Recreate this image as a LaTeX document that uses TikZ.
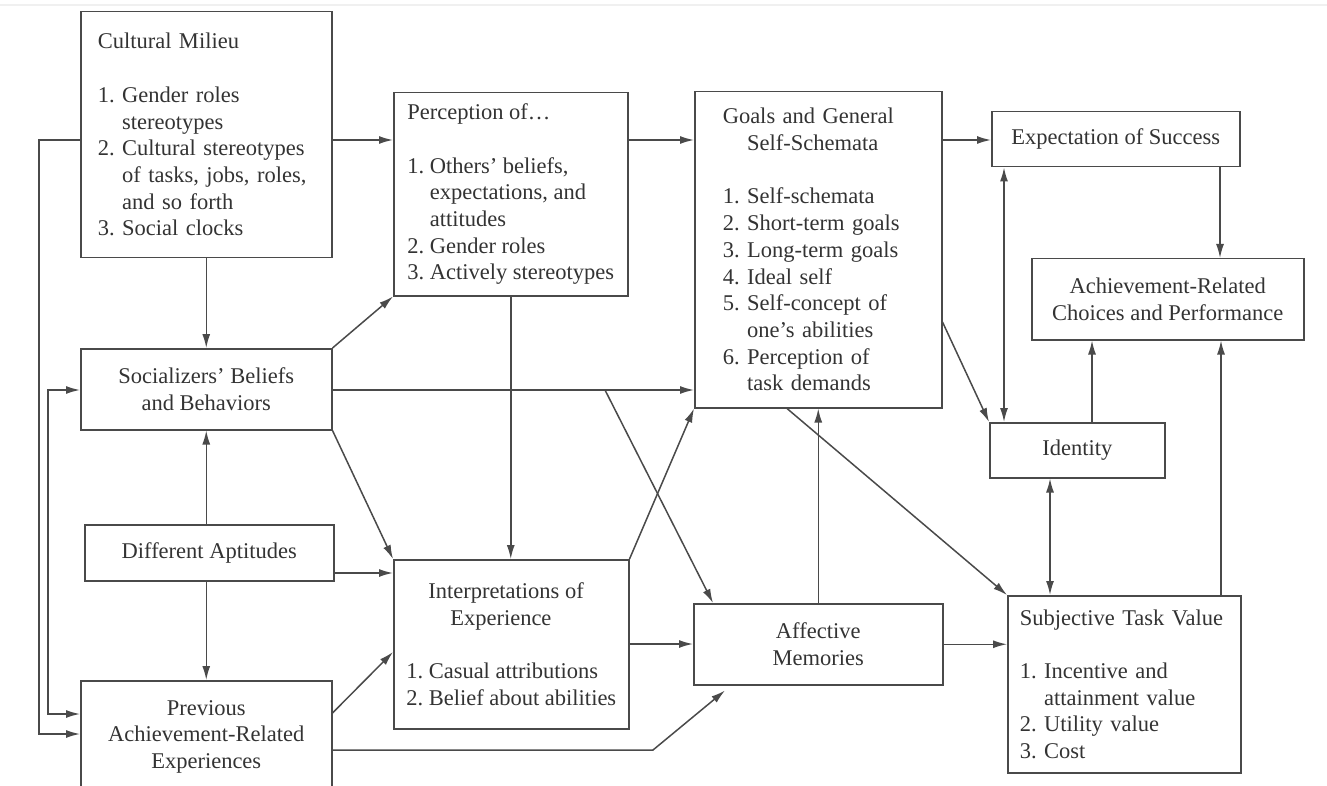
\documentclass[tikz,border=0pt]{standalone}
\usepackage{fontspec}
\setmainfont{Liberation Serif}
\usepackage[HTML]{xcolor}
\usepackage{tikz}
\usetikzlibrary{arrows.meta}

\definecolor{linegray}{HTML}{4A4A4A}
\definecolor{textgray}{HTML}{333333}
\newcommand{\boxfont}{\fontsize{22.5}{26.7}\selectfont\frenchspacing\hyphenpenalty=10000 }
\newcommand{\hangone}{\phantom{1. }}

\tikzset{
  box/.style={draw=linegray, line width=1.5pt, text=textgray, font=\boxfont,
    inner sep=0pt, anchor=north west},
  listbox/.style={box, align=left},
  plainbox/.style={box, align=center},
  link/.style={draw=linegray, line width=1.5pt, -{Latex[length=14pt,width=8pt]}},
  twoway/.style={link, {Latex[length=14pt,width=8pt]}-{Latex[length=14pt,width=8pt]}},
}

\begin{document}
\begin{tikzpicture}[x=1pt,y=-1pt]
\path[use as bounding box, clip] (0,0) rectangle (1327,786);
\draw[gray!12, line width=1.5pt] (0,5) -- (1327,5);
% boxes
\node[listbox, text width=217pt, inner xsep=17pt, minimum height=246pt] (cult) at (80,11)
  {Cultural Milieu\\[26.7pt]
   1. Gender roles\\\hangone stereotypes\\
   2. Cultural stereotypes\\\hangone of tasks, jobs, roles,\\\hangone and so forth\\
   3. Social clocks};
\node[listbox, minimum width=234pt, minimum height=203pt] (percep) at (393,92)
  {Perception of\ldots\\[26.7pt]
   1. Others' beliefs,\\\hangone expectations, and\\\hangone attitudes\\
   2. Gender roles\\
   3. Actively stereotypes};
\node[listbox, text width=191pt, inner xsep=28pt, minimum height=316pt] (goals) at (694,91)
  {Goals and General\\\hangone Self-Schemata\\[26.7pt]
   1. Self-schemata\\
   2. Short-term goals\\
   3. Long-term goals\\
   4. Ideal self\\
   5. Self-concept of\\\hangone one's abilities\\
   6. Perception of\\\hangone task demands};
\node[plainbox, minimum width=248pt, minimum height=55pt] (expect) at (991,111) {Expectation of Success};
\node[plainbox, minimum width=272pt, minimum height=81pt] (achieve) at (1031,258)
  {Achievement-Related\\Choices and Performance};
\node[plainbox, minimum width=175pt, minimum height=55pt] (identity) at (989,422) {Identity};
\node[listbox, text width=209pt, inner xsep=12pt, minimum height=177pt] (subj) at (1007,595)
  {Subjective Task Value\\[26.7pt]
   1. Incentive and\\\hangone attainment value\\
   2. Utility value\\
   3. Cost};
\node[plainbox, minimum width=251pt, minimum height=81pt] (soc) at (80,348)
  {Socializers' Beliefs\\and Behaviors};
\node[plainbox, minimum width=249pt, minimum height=56pt] (apt) at (84,524) {Different Aptitudes};
\node[plainbox, minimum width=251pt, minimum height=112pt] (prev) at (80,680)
  {Previous\\Achievement-Related\\Experiences};
\node[listbox, minimum width=235pt, minimum height=169pt] (interp) at (393,559)
  {\hspace*{22pt}Interpretations of\\\hspace*{44pt}Experience\\[26.7pt]
   1. Casual attributions\\
   2. Belief about abilities};
\node[plainbox, minimum width=249pt, minimum height=81pt] (affect) at (693,603)
  {Affective\\Memories};
% cultural milieu
\draw[link] (cult.east |- 0,140) -- (percep.west |- 0,140);
\draw[link] (cult.south) -- (soc.north);
\draw[link] (cult.west |- 0,140) -| (39,734) -- (prev.west |- 0,734);
\draw[twoway] (soc.west |- 0,390) -| (48,714) -- (prev.west |- 0,714);
% socializers
\coordinate (br) at (605,390);
\draw[link] (soc.north east) -- (percep.south west);
\draw[link] (soc.south east) -- (interp.north west);
\draw[link] (soc.east |- 0,390) -- (goals.west |- 0,390);
\draw[link] (br) -- ([xshift=20pt]affect.north west);
% aptitudes
\draw[link] (apt.north -| soc.south) -- (soc.south);
\draw[link] (apt.south -| prev.north) -- (prev.north);
\draw[link] (apt.east |- 0,573) -- (interp.west |- 0,573);
% previous experiences
\draw[link] (prev.east |- 0,713) -- (interp.west |- 0,652);
\draw[link] (prev.east |- 0,750) -- (653,750) -- ([xshift=32pt,yshift=-5pt]affect.south west);
% perception
\draw[link] (percep.south) -- (percep.south |- interp.north);
\draw[link] (percep.east |- 0,140) -- (goals.west |- 0,140);
% interpretations and memories
\draw[link] (interp.north east) -- (goals.south west);
\draw[link] (interp.east |- 0,644) -- (affect.west |- 0,644);
\draw[link] (affect.north) -- (goals.south);
\draw[link] (affect.east) -- (affect.east -| subj.west);
% goals
\draw[link] (goals.south -| 787,0) -- (subj.north west);
\draw[link] (goals.east |- 0,322) -- (identity.north west);
\draw[link] (goals.east |- 0,140) -- (expect.west |- 0,140);
% right column
\draw[twoway] (expect.south -| 1004,0) -- (identity.north -| 1004,0);
\draw[link] (expect.south -| 1220,0) -- (achieve.north -| 1220,0);
\draw[link] (identity.north -| 1092,0) -- (achieve.south -| 1092,0);
\draw[link] (subj.north -| 1221,0) -- (achieve.south -| 1221,0);
\draw[twoway] (identity.south -| 1050,0) -- (subj.north -| 1050,0);
\end{tikzpicture}
\end{document}
